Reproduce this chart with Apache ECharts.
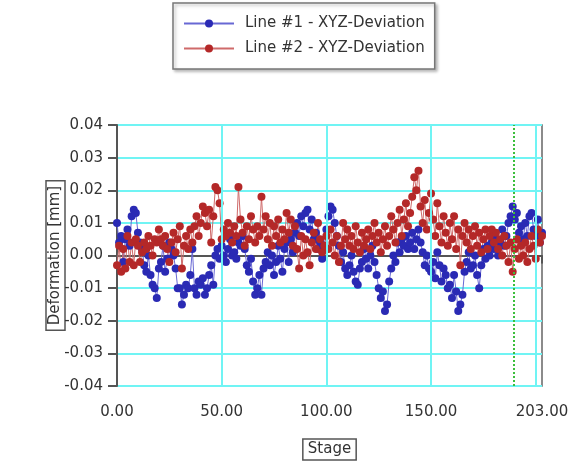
<!DOCTYPE html>
<html>
<head>
<meta charset="utf-8">
<script src="https://cdn.jsdelivr.net/npm/echarts@6/dist/echarts.min.js"></script>
<style>
  html, body { margin: 0; padding: 0; background: #fff; }
  #chart { width: 578px; height: 462px; }
</style>
</head>
<body>
<div id="chart"></div>
<script>
  // 数据
  const seriesNames = ['Line #1 - XYZ-Deviation', 'Line #2 - XYZ-Deviation']
  const xLabels = [0, 50, 100, 150, 203]
  const xGridLines = [50, 100, 150, 200]
  const markerStage = 189.5

  const line1 = [
    0.010, 0.004, 0.006, -0.002, 0.005, 0.008, 0.003, 0.012, 0.014, 0.013,
    0.007, 0.004, 0.002, -0.003, -0.005, 0.000, -0.006, -0.009, -0.010, -0.013,
    -0.004, -0.002, 0.003, -0.005, -0.001, 0.004, 0.002, 0.000, -0.004, -0.010,
    -0.010, -0.015, -0.012, -0.009, -0.010, -0.006, 0.002, -0.010, -0.012, -0.008,
    -0.009, -0.007, -0.012, -0.010, -0.006, -0.003, -0.009, 0.000, 0.002, -0.001,
    0.003, 0.000, -0.002, 0.002, 0.005, 0.000, 0.001, -0.001, 0.004, 0.003,
    0.006, 0.002, -0.003, -0.005, -0.001, -0.008, -0.012, -0.010, -0.006, -0.012,
    -0.004, -0.002, 0.001, -0.003, 0.000, -0.006, -0.002, 0.003, -0.001, -0.005,
    0.002, 0.004, -0.002, 0.005, 0.001, 0.007, 0.010, 0.006, 0.012, 0.009,
    0.013, 0.014, 0.008, 0.011, 0.005, 0.007, 0.002, 0.004, -0.001, 0.003,
    0.008, 0.012, 0.015, 0.014, 0.010, 0.006, 0.003, -0.002, 0.001, -0.004,
    -0.006, -0.003, 0.000, -0.005, -0.008, -0.009, -0.004, -0.002, 0.002, -0.001,
    -0.004, 0.000, 0.003, -0.002, -0.006, -0.010, -0.013, -0.011, -0.017, -0.015,
    -0.008, -0.004, 0.000, -0.002, 0.004, 0.001, 0.005, 0.003, 0.006, 0.002,
    0.004, 0.007, 0.002, 0.005, 0.008, 0.004, 0.001, -0.003, 0.000, -0.004,
    -0.005, -0.002, -0.007, 0.001, -0.003, -0.008, -0.004, -0.006, -0.010, -0.009,
    -0.013, -0.006, -0.011, -0.017, -0.015, -0.012, -0.005, -0.002, 0.001, -0.004,
    -0.003, 0.000, -0.006, -0.010, -0.003, 0.002, -0.001, 0.003, 0.000, 0.004,
    0.002, 0.005, 0.000, 0.004, 0.008, 0.003, 0.006, 0.010, 0.012, 0.015,
    0.011, 0.013, 0.007, 0.009, 0.005, 0.010, 0.006, 0.012, 0.013, 0.008,
    0.006, 0.011, 0.004, 0.007
  ]

  const line2 = [
    -0.003, 0.003, -0.005, 0.002, -0.004, 0.006, -0.002, 0.004, -0.003, 0.005,
    0.003, -0.002, 0.001, 0.004, 0.002, 0.006, 0.003, 0.000, 0.005, 0.004,
    0.008, 0.005, 0.003, 0.006, 0.002, -0.002, 0.004, 0.007, 0.001, 0.005,
    0.009, -0.004, 0.003, 0.006, 0.002, 0.008, 0.004, 0.009, 0.012, 0.006,
    0.010, 0.015, 0.013, 0.009, 0.014, 0.004, 0.012, 0.021, 0.020, 0.016,
    0.005, 0.008, 0.006, 0.010, 0.007, 0.004, 0.009, 0.006, 0.021, 0.011,
    0.007, 0.003, 0.009, 0.005, 0.012, 0.008, 0.004, 0.009, 0.006, 0.018,
    0.008, 0.012, 0.005, 0.010, 0.003, 0.009, 0.006, 0.011, 0.004, 0.008,
    0.005, 0.013, 0.007, 0.011, 0.003, 0.009, 0.002, -0.004, 0.006, 0.000,
    0.005, 0.001, -0.003, 0.004, 0.007, 0.002, 0.010, 0.005, 0.001, 0.003,
    0.006, 0.002, 0.008, 0.004, 0.000, 0.006, -0.002, 0.003, 0.010, 0.005,
    0.008, 0.003, 0.006, 0.002, 0.009, 0.004, 0.001, 0.007, 0.003, 0.005,
    0.008, 0.002, 0.006, 0.010, 0.004, 0.007, 0.001, 0.005, 0.009, 0.003,
    0.006, 0.012, 0.008, 0.004, 0.010, 0.014, 0.006, 0.011, 0.016, 0.009,
    0.013, 0.018, 0.024, 0.020, 0.026, 0.015, 0.010, 0.017, 0.008, 0.013,
    0.019, 0.011, 0.006, 0.016, 0.009, 0.004, 0.012, 0.007, 0.003, 0.010,
    0.005, 0.012, 0.002, 0.008, -0.003, 0.006, 0.010, 0.004, 0.008, 0.002,
    0.006, 0.009, 0.003, 0.007, 0.001, 0.005, 0.008, 0.002, 0.006, 0.008,
    0.004, 0.007, 0.002, 0.005, 0.000, 0.006, 0.003, -0.002, 0.004, -0.005,
    0.002, 0.005, -0.001, 0.003, 0.000, 0.004, -0.002, 0.002, 0.006, 0.003,
    -0.001, 0.008, 0.004, 0.006
  ]

  const toPoints = arr => arr.map((v, i) => [i, v])

  const myChart = echarts.init(document.getElementById('chart'))
  const axisColor = '#555'
  const font = 'DejaVu Sans'

  const option = {
    animation: false,
    backgroundColor: '#fff',
    legend: {
      data: seriesNames,
      orient: 'vertical',
      left: 173,
      top: 3,
      padding: [13, 10, 13, 10],
      itemGap: 10,
      itemWidth: 50,
      itemHeight: 10,
      borderColor: '#777',
      borderWidth: 1.5,
      shadowColor: 'rgba(0,0,0,0.25)',
      shadowBlur: 3,
      shadowOffsetX: 2,
      shadowOffsetY: 2,
      backgroundColor: '#fff',
      textStyle: { fontFamily: font, fontSize: 15, color: '#333', padding: [0, 0, 0, 6] }
    },
    grid: {
      left: 117,
      right: 36,
      top: 125,
      bottom: 76,
      outerBoundsMode: 'none',
      show: true,
      borderColor: '#666',
      borderWidth: 1.5,
      backgroundColor: '#fff'
    },
    xAxis: {
      type: 'value',
      min: 0,
      max: 203,
      interval: 50,
      name: 'Stage',
      nameLocation: 'middle',
      nameGap: 53,
      nameMoveOverlap: false,
      nameTextStyle: {
        fontFamily: font, fontSize: 15, color: '#333',
        borderColor: '#555', borderWidth: 1.5, padding: [3, 5, 3, 5]
      },
      axisLine: { lineStyle: { color: axisColor, width: 2 } },
      axisTick: { length: 8, lineStyle: { color: axisColor, width: 2 }, customValues: xLabels },
      axisLabel: {
        customValues: xLabels,
        margin: 19,
        fontFamily: font, fontSize: 15, color: '#333',
        formatter: v => v.toFixed(2)
      },
      splitLine: { show: false }
    },
    yAxis: {
      type: 'value',
      min: -0.04,
      max: 0.04,
      interval: 0.01,
      name: 'Deformation [mm]',
      nameLocation: 'middle',
      nameRotate: 90,
      nameGap: 52,
      nameMoveOverlap: false,
      nameTextStyle: {
        fontFamily: font, fontSize: 15, color: '#333',
        borderColor: '#555', borderWidth: 1.5, padding: [2, 5, 2, 5]
      },
      axisLine: { show: true, lineStyle: { color: axisColor, width: 2 } },
      axisTick: { show: true, length: 9, lineStyle: { color: axisColor, width: 2 } },
      axisLabel: {
        margin: 14,
        fontFamily: font, fontSize: 15, color: '#333',
        formatter: v => v.toFixed(2)
      },
      splitLine: { lineStyle: { color: '#70f4f4', width: 2 } }
    },
    series: [
      {
        name: 'guides',
        type: 'line',
        data: [],
        silent: true,
        markLine: {
          silent: true,
          symbol: 'none',
          label: { show: false },
          data: xGridLines.map(x => ({ xAxis: x, lineStyle: { color: '#70f4f4', width: 2, type: 'solid' } }))
            .concat([{ xAxis: markerStage, lineStyle: { color: '#3cbf3c', width: 2, type: [2, 2] } }])
        }
      },
      {
        name: seriesNames[0],
        type: 'line',
        data: toPoints(line1),
        symbol: 'circle',
        symbolSize: 8,
        itemStyle: { color: '#2a2ab4' },
        lineStyle: { color: '#6868d4', width: 1 }
      },
      {
        name: seriesNames[1],
        type: 'line',
        data: toPoints(line2),
        symbol: 'circle',
        symbolSize: 8,
        itemStyle: { color: '#b42828' },
        lineStyle: { color: '#cf6a6a', width: 1 }
      }
    ]
  }

  myChart.setOption(option)
</script>
</body>
</html>
